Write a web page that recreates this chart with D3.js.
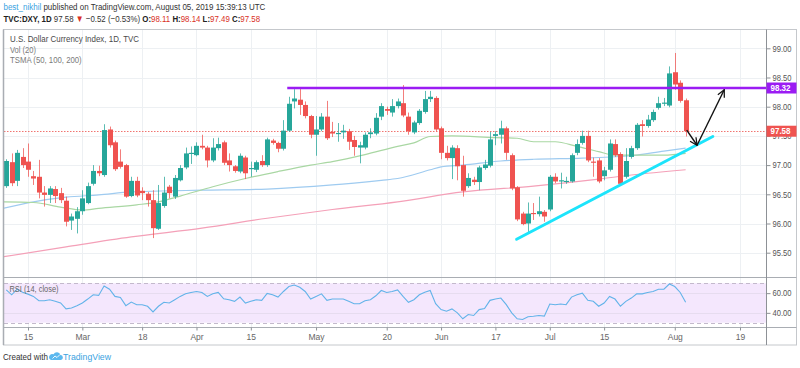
<!DOCTYPE html>
<html>
<head>
<meta charset="utf-8">
<script src="https://cdn.jsdelivr.net/npm/d3@7"></script>
<style>
  body { margin: 0; background: #fff; }
  svg { display: block; font-family: "Liberation Sans", Arial, sans-serif; }
</style>
</head>
<body>
<svg id="chart" width="800" height="368"></svg>
<script>
// bar index 0 = Fri Feb 15 2019, one index per weekday; first drawn bar is index -4
const firstIndex = -4;

// daily candles [open, high, low, close]
const candles = [
  [96.64, 97.10, 96.61, 97.07], [97.05, 97.20, 96.64, 96.69], [96.73, 97.26, 96.64, 97.21], [97.14, 97.29, 96.95, 97.00],
  [97.06, 97.37, 96.80, 96.92], [96.81, 96.90, 96.66, 96.77], [96.80, 97.09, 96.43, 96.53], [96.53, 96.64, 96.29, 96.49],
  [96.49, 96.64, 96.35, 96.60], [96.59, 96.64, 96.35, 96.47], [96.52, 96.61, 96.35, 96.40], [96.39, 96.46, 95.95, 96.03],
  [96.05, 96.17, 95.89, 96.12], [96.08, 96.28, 95.83, 96.21], [96.21, 96.57, 96.15, 96.43], [96.35, 96.70, 96.33, 96.64],
  [96.68, 97.00, 96.65, 96.90], [96.90, 96.99, 96.81, 96.86], [96.83, 97.70, 96.80, 97.60], [97.61, 97.66, 97.30, 97.34],
  [97.39, 97.42, 96.90, 96.93], [97.06, 97.27, 96.94, 96.97], [97.00, 97.02, 96.44, 96.46], [96.47, 96.80, 96.45, 96.73],
  [96.73, 96.80, 96.45, 96.48], [96.56, 96.62, 96.40, 96.52], [96.51, 96.54, 96.29, 96.40], [96.40, 96.57, 95.75, 95.92],
  [95.91, 96.66, 95.89, 96.35], [96.30, 96.80, 96.27, 96.53], [96.63, 96.66, 96.43, 96.52], [96.46, 96.83, 96.42, 96.78],
  [96.74, 97.00, 96.72, 96.95], [96.96, 97.30, 96.93, 97.20], [97.19, 97.32, 97.02, 97.21], [97.17, 97.39, 97.15, 97.33],
  [97.33, 97.52, 97.27, 97.30], [97.30, 97.33, 96.96, 97.08], [97.08, 97.46, 97.05, 97.30], [97.29, 97.47, 97.25, 97.36],
  [97.39, 97.42, 97.00, 97.04], [97.08, 97.20, 96.89, 97.00], [96.98, 97.00, 96.87, 96.90], [96.89, 97.20, 96.86, 97.16],
  [97.13, 97.16, 96.76, 96.86], [96.93, 97.06, 96.80, 96.95], [96.92, 97.08, 96.88, 97.05], [97.07, 97.17, 96.97, 97.00],
  [97.00, 97.47, 96.97, 97.44], [97.42, 97.45, 97.35, 97.38], [97.38, 97.40, 97.22, 97.28], [97.28, 97.77, 97.25, 97.59],
  [97.59, 98.17, 97.57, 98.05], [98.09, 98.30, 97.97, 98.14], [98.12, 98.32, 97.86, 98.03], [98.03, 98.09, 97.80, 97.84],
  [97.84, 97.86, 97.46, 97.52], [97.52, 97.84, 97.16, 97.61], [97.61, 97.89, 97.58, 97.83], [97.83, 98.10, 97.43, 97.46],
  [97.57, 97.74, 97.48, 97.54], [97.53, 97.72, 97.40, 97.55], [97.56, 97.69, 97.45, 97.59], [97.58, 97.62, 97.26, 97.40],
  [97.43, 97.50, 97.16, 97.31], [97.30, 97.40, 97.03, 97.34], [97.30, 97.56, 97.27, 97.52], [97.53, 97.63, 97.46, 97.56],
  [97.54, 97.89, 97.51, 97.81], [97.83, 98.06, 97.77, 98.01], [97.96, 98.00, 97.86, 97.93], [97.90, 98.13, 97.83, 98.01],
  [98.01, 98.14, 97.97, 98.09], [98.06, 98.37, 97.82, 97.85], [97.83, 97.90, 97.52, 97.58], [97.56, 97.76, 97.53, 97.73],
  [97.72, 97.96, 97.69, 97.93], [97.91, 98.27, 97.88, 98.13], [98.13, 98.27, 98.08, 98.17], [98.15, 98.18, 97.58, 97.61],
  [97.63, 97.66, 97.10, 97.21], [97.21, 97.33, 97.08, 97.12], [97.12, 97.34, 96.76, 97.30], [97.29, 97.34, 96.74, 96.98],
  [97.00, 97.16, 96.46, 96.56], [96.64, 96.86, 96.61, 96.78], [96.75, 96.80, 96.66, 96.71], [96.71, 96.99, 96.57, 96.96],
  [96.95, 97.09, 96.92, 97.01], [96.99, 97.57, 96.96, 97.44], [97.50, 97.58, 97.34, 97.53], [97.52, 97.76, 97.37, 97.63],
  [97.63, 97.66, 97.09, 97.21], [97.17, 97.20, 96.57, 96.60], [96.62, 96.64, 96.04, 96.07], [96.17, 96.20, 95.97, 95.99],
  [96.00, 96.36, 95.83, 96.17], [96.18, 96.35, 96.06, 96.16], [96.16, 96.46, 96.12, 96.21], [96.20, 96.23, 96.03, 96.12],
  [96.24, 96.83, 96.21, 96.80], [96.80, 96.86, 96.69, 96.72], [96.72, 96.87, 96.60, 96.74], [96.71, 96.80, 96.68, 96.73],
  [96.72, 97.20, 96.70, 97.17], [97.21, 97.44, 97.17, 97.36], [97.38, 97.59, 97.35, 97.50], [97.50, 97.59, 97.05, 97.08],
  [97.06, 97.13, 96.80, 97.04], [97.08, 97.12, 96.69, 96.72], [96.81, 96.97, 96.74, 96.91], [96.92, 97.44, 96.89, 97.37],
  [97.36, 97.44, 97.14, 97.17], [97.19, 97.22, 96.66, 96.68], [96.80, 97.29, 96.77, 97.07], [97.14, 97.33, 97.11, 97.29],
  [97.29, 97.72, 97.26, 97.69], [97.70, 97.77, 97.49, 97.67], [97.67, 97.86, 97.64, 97.78], [97.77, 97.95, 97.74, 97.91],
  [97.98, 98.17, 97.95, 98.06], [98.05, 98.15, 98.01, 98.07], [98.02, 98.69, 97.99, 98.57], [98.59, 98.92, 98.29, 98.38],
  [98.41, 98.45, 98.07, 98.10], [98.11, 98.14, 97.49, 97.58]
];

// RSI(14) per bar, same indexing as candles
const rsi = [
  63.3, 58.3, 64, 61, 59, 56.7, 52.3, 52.3, 53.3, 51.7,
  50, 44, 45, 47.3, 50, 54, 58.3, 57.7, 67.3, 64,
  56.7, 55.7, 47.3, 51, 48.3, 48.3, 46.7, 41, 46.7, 50.7,
  50, 53.3, 56.7, 59.3, 60.7, 61.7, 60.7, 56.7, 59.3, 60.7,
  54.3, 53.3, 51.7, 56, 50, 51.7, 53.3, 52.7, 59.7, 58.3,
  56, 61.7, 66.7, 68.3, 66, 61.7, 54, 56.7, 59.3, 52.7,
  54, 54, 54, 51.7, 49.3, 49.3, 52.3, 53.3, 57.3, 62.7,
  60.7, 61.7, 63.3, 56.7, 50.7, 53.3, 58.3, 61, 62.7, 49.3,
  43.3, 41.7, 44, 40, 34, 38.3, 37.3, 43.3, 44.3, 52.7,
  54, 55, 48.3, 40, 34, 33.3, 36, 36.5, 37.3, 36.7,
  49, 48.3, 49, 48.3, 56, 58.3, 60, 52.7, 51.7, 46.7,
  50, 56.7, 54, 46.7, 51.7, 55, 59.3, 59.3, 60.7, 61.7,
  64, 64, 69.3, 66.7, 60.7, 50.7
];

// moving averages, read as [bar index, value]
const tsma50 = [[-4.5, 96.37], [1, 96.36], [6, 96.28], [10, 96.23], [13, 96.26], [20, 96.32], [24, 96.37],
  [28, 96.47], [34, 96.63], [40, 96.77], [46, 96.89], [52, 97.00], [56, 97.06], [62, 97.18], [68, 97.32],
  [71, 97.38], [74, 97.49], [78, 97.50], [86, 97.47], [90, 97.46], [93, 97.40], [97, 97.40], [101, 97.32],
  [105, 97.23], [108, 97.17], [117, 97.17], [121, 97.20]];
const tsma100 = [[-4.5, 96.26], [1, 96.37], [7, 96.45], [13, 96.49], [19, 96.54], [26, 96.56], [32, 96.57],
  [44, 96.59], [56, 96.66], [65, 96.74], [68, 96.77], [74, 96.92], [76, 96.97], [80, 97.00], [87, 97.07],
  [93, 97.10], [102, 97.12], [111, 97.16], [117, 97.24], [121, 97.29]];
const tsma200 = [[-4.5, 95.43], [7, 95.60], [19, 95.77], [32, 95.92], [44, 96.09], [56, 96.24], [68, 96.37],
  [80, 96.54], [93, 96.64], [105, 96.76], [111, 96.83], [121, 96.92]];

// drawings
const resistance = {from: 47.7, value: 98.32};
const trendLine = [[89.9, 95.73], [126, 97.49]];
const arrowDown = [[121.2, 97.60], [123.1, 97.34]];
const arrowUp = [[123.1, 97.34], [128.1, 98.29]];
const lastClose = 97.58;

// axes
const tickIndex = [0, 10, 21, 31, 41, 53, 66, 76, 86, 96, 106, 119, 131];
const tickLabels = ['15', 'Mar', '18', 'Apr', '15', 'May', '20', 'Jun', '17', 'Jul', '15', 'Aug', '19'];
const priceTicks = [95.5, 96, 96.5, 97, 97.5, 98, 98.5, 99];
const rsiTicks = [40, 60];

const green = '#26a69a', red = '#ef5350', purple = '#9b1cf3';
const left = 4, right = 766.5, mainTop = 30, mainBottom = 277, rsiBottom = 327.5;

const svg = d3.select('#chart');
const x = d3.scaleLinear().domain([0, 131]).range([28, 740]);
const y = d3.scaleLinear().domain([95.5, 99]).range([252.7, 48.3]);
const yr = d3.scaleLinear().domain([30, 70]).range([322.7, 283.3]);

const defs = svg.append('defs');
defs.append('clipPath').attr('id', 'clipMain').append('rect')
  .attr('x', left).attr('y', mainTop).attr('width', right - left).attr('height', mainBottom - mainTop);
defs.append('clipPath').attr('id', 'clipRsi').append('rect')
  .attr('x', left).attr('y', mainBottom).attr('width', right - left).attr('height', rsiBottom - mainBottom);
defs.append('marker')
  .attr('id', 'arrow').attr('viewBox', '0 0 10 10').attr('refX', 9).attr('refY', 5)
  .attr('markerWidth', 9).attr('markerHeight', 9).attr('markerUnits', 'userSpaceOnUse')
  .attr('orient', 'auto')
  .append('path').attr('d', 'M1,1 L9,5 L1,9').attr('fill', 'none').attr('stroke', '#111').attr('stroke-width', 1.4);

function txt(g, x0, y0, s, o) {
  o = o || {};
  const t = g.append('text').attr('x', x0).attr('y', y0).text(s)
    .attr('font-size', o.size || 10)
    .attr('fill', o.fill || '#333')
    .attr('font-weight', o.bold ? 'bold' : null);
  if (o.w) t.attr('textLength', o.w).attr('lengthAdjust', 'spacingAndGlyphs');
  return t;
}

// a flowing line of coloured pieces, squeezed horizontally to a given width
function flowLine(x0, y0, width, size, pieces) {
  const g = svg.append('g');
  const t = g.append('text').attr('x', 0).attr('y', 0).attr('font-size', size);
  pieces.forEach(p => {
    t.append('tspan').text(p[0]).attr('fill', p[1]).attr('font-weight', p[2] ? 'bold' : null)
      .attr('xml:space', 'preserve');
  });
  t.style('white-space', 'pre');
  const k = width / t.node().getComputedTextLength();
  g.attr('transform', `translate(${x0},${y0}) scale(${k},1)`);
  return g;
}

// grid
const grid = svg.append('g');
priceTicks.forEach(v => {
  const yy = Math.round(y(v)) + 0.5;
  grid.append('line').attr('x1', left).attr('x2', right).attr('y1', yy).attr('y2', yy)
    .attr('stroke', '#edf0f3');
});
tickIndex.forEach(i => {
  const xx = Math.round(x(i)) + 0.5;
  grid.append('line').attr('x1', xx).attr('x2', xx).attr('y1', mainTop).attr('y2', rsiBottom)
    .attr('stroke', '#edf0f3');
});

// main pane
const main = svg.append('g').attr('clip-path', 'url(#clipMain)');

const maLine = d3.line().x(d => x(d[0])).y(d => y(d[1])).curve(d3.curveMonotoneX);
[[tsma200, '#f4a0b8'], [tsma100, '#9fcbf0'], [tsma50, '#a9d7a3']].forEach(([s, c]) => {
  main.append('path').datum(s).attr('d', maLine).attr('fill', 'none').attr('stroke', c).attr('stroke-width', 1.2);
});

main.append('line')
  .attr('x1', left).attr('x2', right)
  .attr('y1', Math.round(y(lastClose)) + 0.5).attr('y2', Math.round(y(lastClose)) + 0.5)
  .attr('stroke', '#f07470').attr('stroke-dasharray', '1.5,1.5');

const bars = main.selectAll('g.bar').data(candles).join('g').attr('class', 'bar');
bars.each(function(d, k) {
  const i = firstIndex + k;
  const cx = Math.round(x(i)) + 0.5;
  const col = d[3] >= d[0] ? green : red;
  const g = d3.select(this);
  g.append('line').attr('x1', cx).attr('x2', cx).attr('y1', y(d[1])).attr('y2', y(d[2]))
    .attr('stroke', col).attr('stroke-opacity', 0.75);
  const top = y(Math.max(d[0], d[3])), bot = y(Math.min(d[0], d[3]));
  g.append('rect').attr('x', cx - 2.5).attr('width', 5)
    .attr('y', top).attr('height', Math.max(1, bot - top))
    .attr('fill', col);
});

main.append('line')
  .attr('x1', x(resistance.from)).attr('x2', right)
  .attr('y1', y(resistance.value)).attr('y2', y(resistance.value))
  .attr('stroke', purple).attr('stroke-width', 2.5);

main.append('line')
  .attr('x1', x(trendLine[0][0])).attr('y1', y(trendLine[0][1]))
  .attr('x2', x(trendLine[1][0])).attr('y2', y(trendLine[1][1]))
  .attr('stroke', '#1de4fb').attr('stroke-width', 3).attr('stroke-linecap', 'round');

[arrowDown, arrowUp].forEach(a => {
  main.append('line')
    .attr('x1', x(a[0][0])).attr('y1', y(a[0][1]))
    .attr('x2', x(a[1][0])).attr('y2', y(a[1][1]))
    .attr('stroke', '#111').attr('stroke-width', 1.4)
    .attr('marker-end', 'url(#arrow)');
});

// RSI pane
const rp = svg.append('g').attr('clip-path', 'url(#clipRsi)');
rp.append('rect').attr('x', left).attr('width', right - left)
  .attr('y', yr(70)).attr('height', yr(30) - yr(70)).attr('fill', '#f4e7fd');
rsiTicks.forEach(v => {
  rp.append('line').attr('x1', left).attr('x2', right)
    .attr('y1', Math.round(yr(v)) + 0.5).attr('y2', Math.round(yr(v)) + 0.5).attr('stroke', '#e6dcef');
});
[70, 30].forEach(v => {
  rp.append('line').attr('x1', left).attr('x2', right)
    .attr('y1', Math.round(yr(v)) + 0.5).attr('y2', Math.round(yr(v)) + 0.5)
    .attr('stroke', '#c3b9cc').attr('stroke-dasharray', '4,3');
});
rp.append('path').datum(rsi)
  .attr('d', d3.line().x((d, k) => x(firstIndex + k)).y(d => yr(d)))
  .attr('fill', 'none').attr('stroke', '#62b3e9').attr('stroke-width', 1.1);

// frame
const frame = svg.append('g').attr('stroke', '#a9adb3').attr('fill', 'none');
frame.append('rect').attr('x', 3.5).attr('y', 29.5).attr('width', 793).attr('height', 315.5).attr('stroke', '#c5c8cc');
frame.append('line').attr('x1', 3.5).attr('x2', 3.5).attr('y1', 29.5).attr('y2', 345).attr('stroke-width', 1.5);
frame.append('line').attr('x1', left).attr('x2', 796.5).attr('y1', 277.5).attr('y2', 277.5);
frame.append('line').attr('x1', left).attr('x2', 796.5).attr('y1', rsiBottom).attr('y2', rsiBottom);
frame.append('line').attr('x1', right).attr('x2', right).attr('y1', 29.5).attr('y2', 345).attr('stroke', '#8d9196');

// right price axis
function styleAxis(g) {
  g.select('.domain').remove();
  g.selectAll('line').attr('stroke', '#8d9196');
  g.selectAll('text').attr('font-size', 8.5).attr('fill', '#555')
    .attr('font-family', '"Liberation Sans", Arial, sans-serif');
}
const yAxis = svg.append('g').attr('transform', `translate(${right},0)`)
  .call(d3.axisRight(y).tickValues(priceTicks).tickFormat(d3.format('.2f')).tickSize(4).tickPadding(2));
styleAxis(yAxis);
yAxis.selectAll('text').attr('textLength', 19).attr('lengthAdjust', 'spacingAndGlyphs');

const rAxis = svg.append('g').attr('transform', `translate(${right},0)`)
  .call(d3.axisRight(yr).tickValues(rsiTicks).tickFormat(d3.format('.2f')).tickSize(4).tickPadding(2));
styleAxis(rAxis);
rAxis.selectAll('text').attr('textLength', 19).attr('lengthAdjust', 'spacingAndGlyphs');

// bottom time axis
const xAxis = svg.append('g').attr('transform', `translate(0,${rsiBottom})`)
  .call(d3.axisBottom(x).tickValues(tickIndex).tickFormat((d, k) => tickLabels[k]).tickSize(3).tickPadding(3));
styleAxis(xAxis);
xAxis.selectAll('text').attr('fill', '#666');

// price labels on the axis
function priceTag(v, col) {
  const yy = y(v);
  svg.append('rect').attr('x', right).attr('y', yy - 5.5).attr('width', 30).attr('height', 11).attr('fill', col);
  txt(svg, right + 4, yy + 3.2, d3.format('.2f')(v), {size: 8.5, fill: '#fff', bold: true, w: 20});
}
priceTag(resistance.value, purple);
priceTag(lastClose, red);

// header
const darkRed = '#d93025';
flowLine(3.5, 10, 262, 9.5, [
  ['best_nikhil', '#3aa3df'],
  [' published on TradingView.com, August 05, 2019 15:39:13 UTC', '#333']
]);
flowLine(3.5, 21.5, 257, 9.5, [
  ['TVC:DXY, 1D', '#222', true], [' 97.58 ', '#333'], ['▼', darkRed], [' \u22120.52 (\u22120.53%) ', '#333'],
  ['O:', '#222', true], ['98.11', darkRed], [' H:', '#222', true], ['98.14', darkRed],
  [' L:', '#222', true], ['97.49', darkRed], [' C:', '#222', true], ['97.58', darkRed]
]);

// pane legends
txt(svg, 10, 41.5, 'U.S. Dollar Currency Index, 1D, TVC', {size: 9, w: 129, fill: '#4a4a4a'});
txt(svg, 10, 52.5, 'Vol (20)', {size: 9, w: 26, fill: '#7a7a7a'});
txt(svg, 10, 63, 'TSMA (50, 100, 200)', {size: 9, w: 71.7, fill: '#7a7a7a'});
txt(svg, 9.5, 291.5, 'RSI (14, close)', {size: 9, w: 49, fill: '#666'});

// footer
svg.append('path')
  .attr('d', 'M51,360 h10 a2.6,2.6 0 0 0 -0.6,-5.1 a3.6,3.6 0 0 0 -6.8,-0.6 a2.8,2.8 0 0 0 -2.6,5.7 z')
  .attr('fill', '#5cb8ee');
svg.append('path').attr('d', 'M52.5,358.5 l2.5,-2.5 l2,1.5 l3,-3')
  .attr('fill', 'none').attr('stroke', '#fff').attr('stroke-width', 0.9);
txt(svg, 3, 359.5, 'Created with', {size: 9, w: 45, fill: '#333'});
txt(svg, 63, 359.5, 'TradingView', {size: 9, w: 48, fill: '#3aa3df'});
</script>
</body>
</html>
